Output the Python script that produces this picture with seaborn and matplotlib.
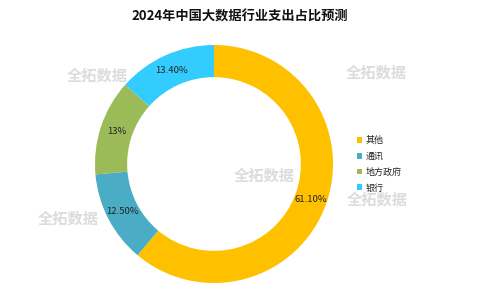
import matplotlib
matplotlib.use("Agg")
import matplotlib.pyplot as plt
import seaborn as sns
import numpy as np

sns.set_theme(style="white")
plt.rcParams['font.family'] = ['Noto Sans CJK SC', 'DejaVu Sans']

title = "2024年中国大数据行业支出占比预测"
categories = ["其他", "通讯", "地方政府", "银行"]
values = [61.10, 12.50, 13.0, 13.40]
value_labels = ["61.10%", "12.50%", "13%", "13.40%"]
colors = ["#FFC000", "#4BACC6", "#9BBB59", "#33CCFF"]
watermark = "全拓数据"

fig = plt.figure(figsize=(4.8, 3.0), dpi=100)
ax = fig.add_axes([0, 0, 1, 1])

W, H = 480, 300
cx, cy, R = 214, H - 164, 119
width = 0.27

wedges, texts = ax.pie(values, startangle=90, counterclock=False, colors=colors,
                       radius=R, center=(cx, cy),
                       wedgeprops=dict(width=R * width, edgecolor='none'))

total = sum(values)
start = 90.0
for v, lab in zip(values, value_labels):
    mid = start - v / total * 360 / 2
    start -= v / total * 360
    r = R * (1 - width / 2)
    x = cx + r * np.cos(np.deg2rad(mid))
    y = cy + r * np.sin(np.deg2rad(mid))
    ax.text(x, y, lab, ha='center', va='center', fontsize=6.8, color='#222222')

# watermarks
for (wx, wy) in [(97, 76), (376, 73), (264, 176), (68, 219), (377, 200)]:
    ax.text(wx, H - wy, watermark, ha='center', va='center', fontsize=11,
            fontweight='bold', color='#DCDCDC', zorder=5)

ax.set_xlim(0, W)
ax.set_ylim(0, H)
ax.set_aspect('auto')
ax.axis('off')

fig.text(240 / W, 1 - 17 / H, title, ha='center', va='center', fontsize=9.5,
         fontweight='bold', color='#111111')

leg = ax.legend(wedges, categories, loc='upper left', bbox_to_anchor=(357 / W, 1 - 136 / H),
                frameon=False, fontsize=6.5, handlelength=0.6, handleheight=0.6,
                handletextpad=0.4, labelspacing=0.75, borderpad=0, borderaxespad=0)
for t in leg.get_texts():
    t.set_color('#222222')

fig.savefig("out.png", dpi=100, facecolor='white')
